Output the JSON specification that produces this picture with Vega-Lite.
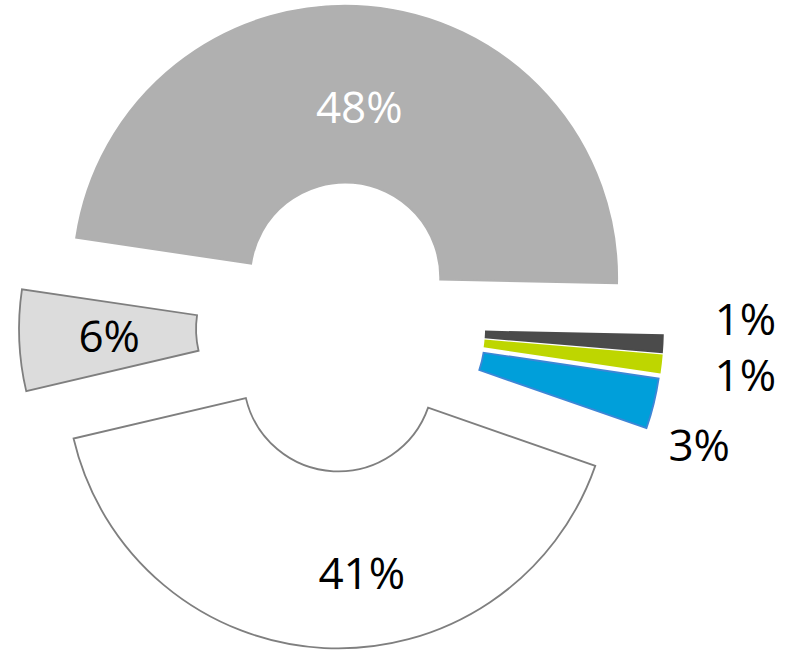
{
  "$schema": "https://vega.github.io/schema/vega-lite/v6.json",
  "width": 794,
  "height": 650,
  "padding": 0,
  "autosize": {"type": "fit", "contains": "padding"},
  "background": "#ffffff",
  "view": {"stroke": null},
  "data": {
    "values": [
      {"order": 1, "cat": "A", "value": 48},
      {"order": 2, "cat": "B", "value": 1},
      {"order": 3, "cat": "C", "value": 1},
      {"order": 4, "cat": "D", "value": 3},
      {"order": 5, "cat": "E", "value": 41},
      {"order": 6, "cat": "F", "value": 6}
    ]
  },
  "transform": [
    {"window": [{"op": "sum", "field": "value", "as": "end"}], "sort": [{"field": "order"}], "frame": [null, 0]},
    {"calculate": "datum.end - datum.value", "as": "start"},
    {"calculate": "datum.end - datum.value / 2", "as": "midp"},
    {"calculate": "-1.4242 + datum.midp / 100 * 2 * PI", "as": "ang"},
    {"calculate": "sin(datum.ang)", "as": "ex"},
    {"calculate": "cos(datum.ang)", "as": "ey"},
    {"calculate": "datum.value + '%'", "as": "label"}
  ],
  "encoding": {
    "x": {"field": "ex", "type": "quantitative", "axis": null, "scale": {"domain": [-6.82, 9.06], "zero": false, "nice": false}},
    "y": {"field": "ey", "type": "quantitative", "axis": null, "scale": {"domain": [-6.4, 6.6], "zero": false, "nice": false}}
  },
  "layer": [
    {
      "mark": {"type": "arc", "radius": 272, "radius2": 95, "strokeWidth": 1.8},
      "encoding": {
        "theta": {"field": "start", "type": "quantitative", "stack": null, "scale": {"domain": [0, 100], "range": [-1.4242, 4.859]}},
        "theta2": {"field": "end"},
        "fill": {"field": "cat", "type": "nominal", "legend": null,
          "scale": {"domain": ["A", "B", "C", "D", "E", "F"], "range": ["#b0b0b0", "#4b4b4b", "#bed600", "#009fda", "#ffffff", "#dcdcdc"]}},
        "stroke": {"field": "cat", "type": "nominal", "legend": null,
          "scale": {"domain": ["A", "B", "C", "D", "E", "F"], "range": ["#b0b0b0", "#4b4b4b", "#bed600", "#3d86d6", "#7f7f7f", "#7f7f7f"]}}
      }
    },
    {
      "transform": [{"filter": "datum.cat === 'A'"}],
      "mark": {"type": "text", "radius": 168, "font": "Open Sans", "fontSize": 44, "align": "center", "baseline": "middle", "color": "#ffffff"},
      "encoding": {
        "theta": {"field": "midp", "type": "quantitative", "stack": null},
        "text": {"field": "label"}
      }
    },
    {
      "transform": [{"filter": "datum.cat === 'E'"}],
      "mark": {"type": "text", "radius": 183, "dx": 33, "dy": 17, "font": "Open Sans", "fontSize": 44, "align": "center", "baseline": "middle", "color": "#000000"},
      "encoding": {
        "theta": {"field": "midp", "type": "quantitative", "stack": null},
        "text": {"field": "label"}
      }
    },
    {
      "transform": [{"filter": "datum.cat === 'F'"}],
      "mark": {"type": "text", "radius": 183, "dx": 1, "dy": 2, "font": "Open Sans", "fontSize": 44, "align": "center", "baseline": "middle", "color": "#000000"},
      "encoding": {
        "theta": {"field": "midp", "type": "quantitative", "stack": null},
        "text": {"field": "label"}
      }
    },
    {
      "transform": [{"filter": "datum.cat === 'B'"}],
      "mark": {"type": "text", "radius": 355, "dy": -26, "font": "Open Sans", "fontSize": 44, "align": "center", "baseline": "middle", "color": "#000000"},
      "encoding": {
        "theta": {"field": "midp", "type": "quantitative", "stack": null},
        "text": {"field": "label"}
      }
    },
    {
      "transform": [{"filter": "datum.cat === 'C'"}],
      "mark": {"type": "text", "radius": 355, "dx": 2, "dy": 5, "font": "Open Sans", "fontSize": 44, "align": "center", "baseline": "middle", "color": "#000000"},
      "encoding": {
        "theta": {"field": "midp", "type": "quantitative", "stack": null},
        "text": {"field": "label"}
      }
    },
    {
      "transform": [{"filter": "datum.cat === 'D'"}],
      "mark": {"type": "text", "radius": 324, "dx": -5, "dy": 32, "font": "Open Sans", "fontSize": 44, "align": "center", "baseline": "middle", "color": "#000000"},
      "encoding": {
        "theta": {"field": "midp", "type": "quantitative", "stack": null},
        "text": {"field": "label"}
      }
    }
  ]
}
